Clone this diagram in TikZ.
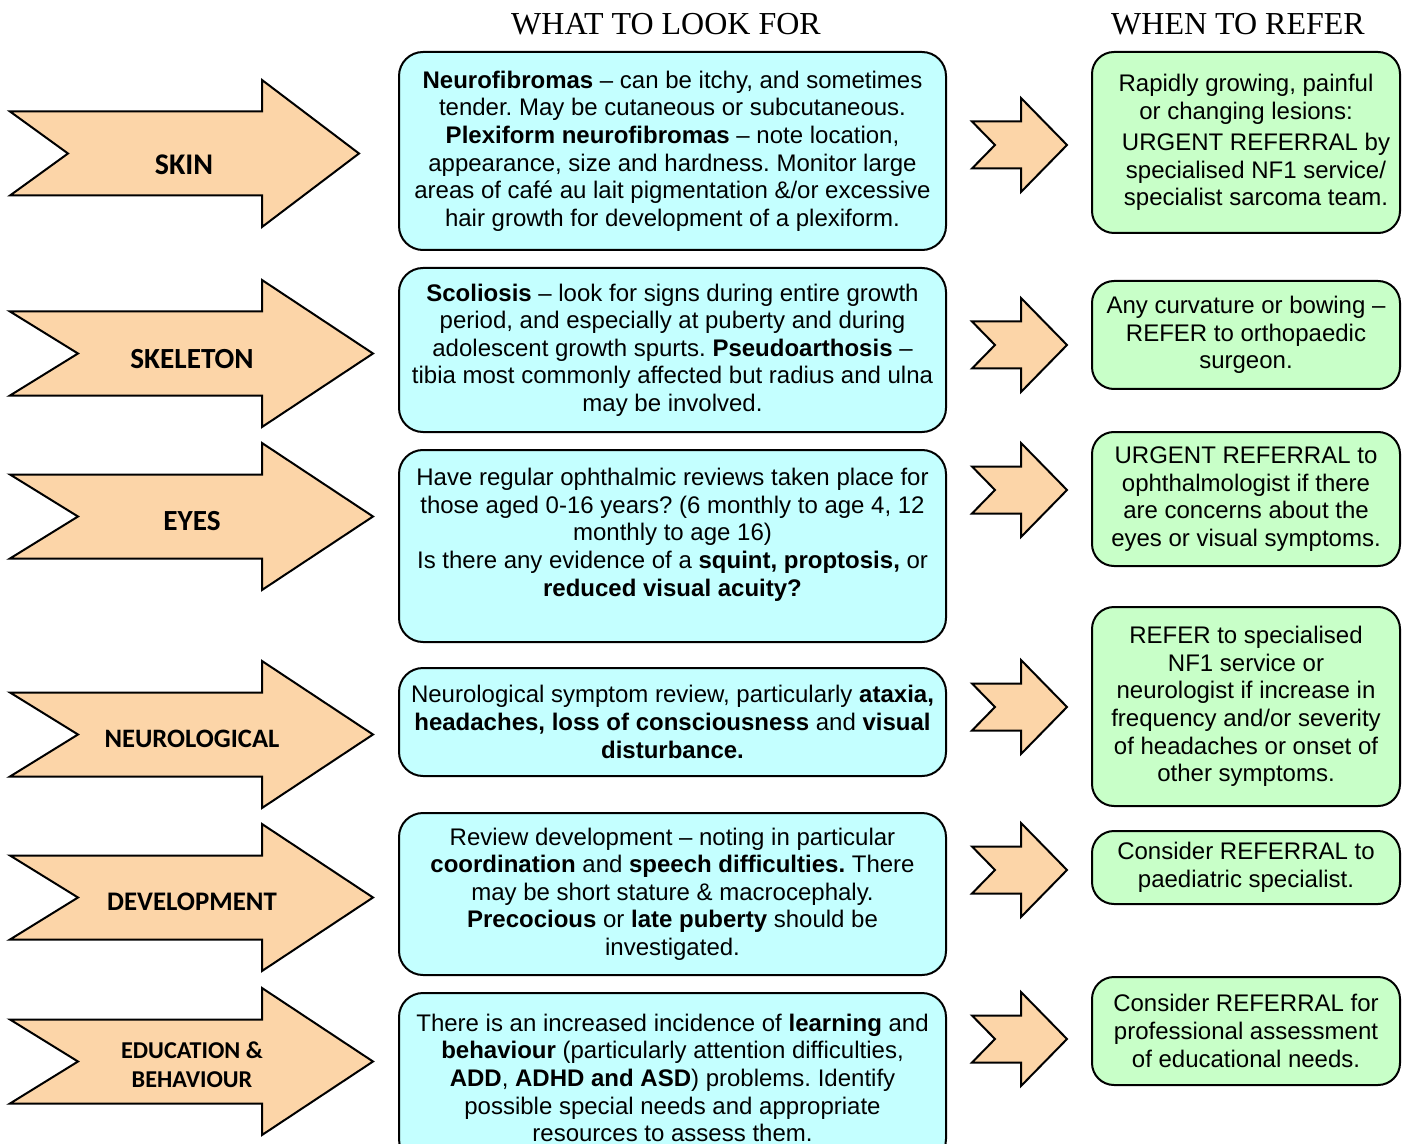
\documentclass[tikz,border=0pt]{standalone}
\usepackage{fontspec}
\setmainfont{Liberation Sans}
\newfontfamily\calibri{Carlito}
\newfontfamily\timesfont{Liberation Serif}
\usetikzlibrary{positioning}
\frenchspacing
\definecolor{peach}{HTML}{FCD5A8}
\definecolor{lookcyan}{HTML}{C4FFFF}
\definecolor{refergreen}{HTML}{C8FFC8}
\tikzset{arrowline/.style={draw, line width=1pt, fill=peach, line join=miter},
  look/.style={draw, line width=1pt, fill=lookcyan, rounded corners=12pt, align=center, minimum width=273.5pt, inner sep=0pt, font=\fontsize{12}{13.8}\selectfont},
  refer/.style={draw, line width=1pt, fill=refergreen, rounded corners=11pt, align=center, minimum width=154pt, inner sep=0pt, font=\fontsize{12}{13.8}\selectfont},
  topic/.style={font=\calibri\bfseries\fontsize{#1}{14.5}\selectfont, align=center},
  colhead/.style={font=\timesfont\fontsize{16}{18}\selectfont},
  pics/bigarrow/.style 2 args={code={
    \path[arrowline] (10,-42) -- (262,-42) -- (262,-73.5) -- (#1,0) -- (262,73.5) -- (262,42) -- (10,42) -- (#2,0) -- cycle;}},
  pics/smallarrow/.style={code={
    \path[arrowline] (0,-23.5) -- (49,-23.5) -- (49,-47) -- (95,0) -- (49,47) -- (49,23.5) -- (0,23.5) -- (23,0) -- cycle;}}}

\begin{document}
\begin{tikzpicture}[x=0.5pt, y=-0.5pt]
    \useasboundingbox (0,0) rectangle (1407,1144);
    \clip (0,0) rectangle (1407,1144);
    % column headings
    \node [colhead] (lookhead) at (666,24) {WHAT TO LOOK FOR};
    \node [colhead] (referhead) at (1238,24) {WHEN TO REFER};
    % big arrows on the left
    \pic (skinarrow) at (0,153.5) {bigarrow={359}{68}};
    \pic (skelarrow) at (0,353.5) {bigarrow={373}{78}};
    \pic (eyesarrow) at (0,516.5) {bigarrow={373}{78}};
    \pic (neuroarrow) at (0,734.5) {bigarrow={373}{78}};
    \pic (devarrow) at (0,897.5) {bigarrow={373}{78}};
    \pic (eduarrow) at (0,1061.5) {bigarrow={373}{78}};
    \node [topic=15] (skin) at (184,165) {SKIN};
    \node [topic=14.6] (skeleton) at (192,359) {SKELETON};
    \node [topic=14.6] (eyes) at (192,521) {EYES};
    \node [topic=13.3] (neuro) at (192,739) {NEUROLOGICAL};
    \node [topic=13.4] (develop) at (192,902) {DEVELOPMENT};
    \node [topic=12.1] (educate) at (192,1065) {EDUCATION \&\\BEHAVIOUR};
    % what to look for
    \node [look, minimum height=99pt] (lookskin) at (672.5,151) {\textbf{Neurofibromas} – can be itchy, and sometimes\\tender. May be cutaneous or subcutaneous.\\\textbf{Plexiform neurofibromas} – note location,\\appearance, size and hardness. Monitor large\\areas of café au lait pigmentation \&/or excessive\\hair growth for development of a plexiform.};
    \node [look, minimum height=82pt] (lookskel) at (672.5,350) {\textbf{Scoliosis} – look for signs during entire growth\\period, and especially at puberty and during\\adolescent growth spurts. \textbf{Pseudoarthosis} –\\tibia most commonly affected but radius and ulna\\may be involved.};
    \node [look, minimum height=96pt] (lookeyes) at (672.5,546) {Have regular ophthalmic reviews taken place for\\those aged 0-16 years? (6 monthly to age 4, 12\\monthly to age 16)\\Is there any evidence of a \textbf{squint, proptosis,} or\\\textbf{reduced visual acuity?}\\~};
    \node [look, minimum height=54pt] (lookneuro) at (672.5,722) {Neurological symptom review, particularly \textbf{ataxia,}\\\textbf{headaches, loss of consciousness} and \textbf{visual}\\\textbf{disturbance.}};
    \node [look, minimum height=81pt] (lookdev) at (672.5,894) {Review development – noting in particular\\\textbf{coordination} and \textbf{speech difficulties.} There\\may be short stature \& macrocephaly.\\\textbf{Precocious} or \textbf{late puberty} should be\\investigated.};
    \node [look, minimum height=85pt] (lookedu) at (672.5,1078) {There is an increased incidence of \textbf{learning} and\\\textbf{behaviour} (particularly attention difficulties,\\\textbf{ADD}, \textbf{ADHD and ASD}) problems. Identify\\possible special needs and appropriate\\resources to assess them.};
    % small arrows
    \pic (skinpoint) at (972,145) {smallarrow};
    \pic (skelpoint) at (972,345) {smallarrow};
    \pic (eyespoint) at (972,490) {smallarrow};
    \pic (neuropoint) at (972,707) {smallarrow};
    \pic (devpoint) at (972,870) {smallarrow};
    \pic (edupoint) at (972,1039) {smallarrow};
    % when to refer
    \node [refer, minimum height=90.5pt] (referskin) at (1246,142.5) {Rapidly growing, painful\\or changing lesions:\\[2pt]\hspace*{10pt}URGENT REFERRAL by\\\hspace*{10pt}specialised NF1 service/\\\hspace*{10pt}specialist sarcoma team.};
    \node [refer, minimum height=54pt] (referskel) at (1246,335) {Any curvature or bowing –\\REFER to orthopaedic\\surgeon.};
    \node [refer, minimum height=67pt] (refereyes) at (1246,499) {URGENT REFERRAL to\\ophthalmologist if there\\are concerns about the\\eyes or visual symptoms.};
    \node [refer, minimum height=99.5pt] (referneuro) at (1246,706.5) {REFER to specialised\\NF1 service or\\neurologist if increase in\\frequency and/or severity\\of headaches or onset of\\other symptoms.};
    \node [refer, minimum height=36.5pt] (referdev) at (1246,867.5) {Consider REFERRAL to\\paediatric specialist.};
    \node [refer, minimum height=54pt] (referedu) at (1246,1031) {Consider REFERRAL for\\professional assessment\\of educational needs.};
\end{tikzpicture}
\end{document}
